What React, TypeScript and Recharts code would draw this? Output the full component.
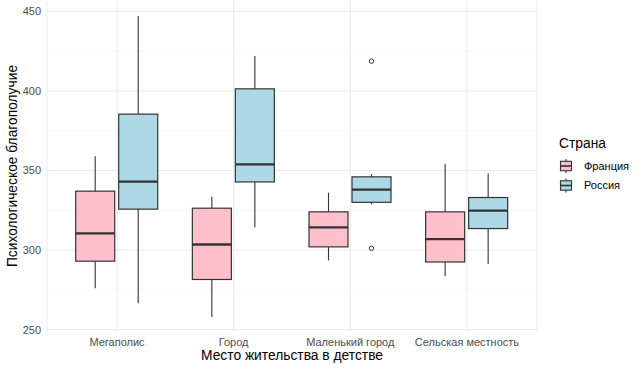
import React from 'react';
import { ComposedChart, Bar, XAxis, YAxis, CartesianGrid } from 'recharts';

const categories = ['Мегаполис', 'Город', 'Маленький город', 'Сельская местность'];

const franceMin = [276, 258, 293.5, 283.5];
const franceQ1 = [293, 281.5, 302, 292.5];
const franceMedian = [310.5, 303.5, 314.2, 306.8];
const franceQ3 = [337, 326.3, 324, 324];
const franceMax = [359, 333.5, 336, 354];
const franceOutliers: number[][] = [[], [], [], []];

const russiaMin = [266.5, 314.3, 328.8, 291.3];
const russiaQ1 = [325.7, 342.8, 330, 313.5];
const russiaMedian = [343, 353.8, 338, 324.8];
const russiaQ3 = [385.4, 401.3, 346, 333];
const russiaMax = [447, 421.9, 347.7, 348.1];
const russiaOutliers: number[][] = [[], [], [418.7, 301.1], []];

const yTicks = [250, 300, 350, 400, 450];
const yMinorTicks = [275, 325, 375, 425];
const yDomain = [248.5, 456.5];

const seriesNames = ['Франция', 'Россия'];
const legendTitle = 'Страна';
const xTitle = 'Место жительства в детстве';
const yTitle = 'Психологическое благополучие';

const FILL_F = '#FFC0CB';
const FILL_R = '#ADD8E6';
const STROKE = '#333333';
const FONT = '"Liberation Sans", Arial, sans-serif';

const data = categories.map((c, i) => ({
  category: c,
  fMin: franceMin[i], fQ1: franceQ1[i], fMed: franceMedian[i], fQ3: franceQ3[i], fMax: franceMax[i], fOut: franceOutliers[i],
  rMin: russiaMin[i], rQ1: russiaQ1[i], rMed: russiaMedian[i], rQ3: russiaQ3[i], rMax: russiaMax[i], rOut: russiaOutliers[i],
}));

function makeBoxShape(p: 'f' | 'r', fill: string) {
  return (props: any) => {
    const { x, y, width, height, payload } = props;
    const lo = payload[p + 'Min'];
    const hi = payload[p + 'Max'];
    const top = Math.min(y, y + height);
    const h = Math.abs(height);
    const k = h / (hi - lo);
    const py = (v: number) => top + (hi - v) * k;
    const cx = x + width / 2;
    const q1 = py(payload[p + 'Q1']);
    const q3 = py(payload[p + 'Q3']);
    const med = py(payload[p + 'Med']);
    const outs: number[] = payload[p + 'Out'] || [];
    return (
      <g>
        <line x1={cx} x2={cx} y1={py(hi)} y2={q3} stroke={STROKE} strokeWidth={1.1} />
        <line x1={cx} x2={cx} y1={q1} y2={py(lo)} stroke={STROKE} strokeWidth={1.1} />
        <rect x={x} y={q3} width={width} height={q1 - q3} fill={fill} stroke={STROKE} strokeWidth={1.2} />
        <line x1={x} x2={x + width} y1={med} y2={med} stroke={STROKE} strokeWidth={2.3} />
        {outs.map((o, j) => (
          <circle key={j} cx={cx} cy={py(o)} r={2.2} fill="none" stroke={STROKE} strokeWidth={1} />
        ))}
      </g>
    );
  };
}

const LegendKey = ({ y, fill }: { y: number; fill: string }) => (
  <g>
    <line x1={566} x2={566} y1={y - 7} y2={y + 7} stroke={STROKE} strokeWidth={1.1} />
    <rect x={560.5} y={y - 4.7} width={11} height={9.4} fill={fill} stroke={STROKE} strokeWidth={1.1} />
    <line x1={560.5} x2={571.5} y1={y} y2={y} stroke={STROKE} strokeWidth={1.6} />
  </g>
);

const tickStyle = { fontSize: 11, fill: '#4D4D4D', stroke: 'none', fontFamily: FONT };

export default function App() {
  return (
    <div style={{ position: 'absolute', left: 0, top: 0, width: 643, height: 370, background: '#fff' }}>
      <ComposedChart
        width={643}
        height={370}
        data={data}
        margin={{ top: 1, right: 106, bottom: 0, left: 0 }}
        barGap={4}
        barSize={39}
      >
        <CartesianGrid horizontalValues={yMinorTicks} vertical={false} stroke="#F3F3F3" strokeWidth={0.7} />
        <CartesianGrid horizontalValues={yTicks} stroke="#EBEBEB" strokeWidth={1} />
        <XAxis
          dataKey="category"
          type="category"
          padding={{ left: 11.7, right: 11.7 }}
          tickLine={false}
          axisLine={false}
          stroke="none"
          tickSize={0}
          tickMargin={6}
          height={38}
          interval={0}
          tick={tickStyle}
        />
        <YAxis
          type="number"
          domain={yDomain}
          ticks={yTicks}
          allowDataOverflow
          tickLine={false}
          axisLine={false}
          stroke="none"
          tickSize={0}
          tickMargin={6}
          width={47}
          tick={tickStyle}
        />
        <Bar
          dataKey={(d: any) => [d.fMin, d.fMax]}
          name={seriesNames[0]}
          fill={FILL_F}
          shape={makeBoxShape('f', FILL_F)}
          isAnimationActive={false}
        />
        <Bar
          dataKey={(d: any) => [d.rMin, d.rMax]}
          name={seriesNames[1]}
          fill={FILL_R}
          shape={makeBoxShape('r', FILL_R)}
          isAnimationActive={false}
        />
      </ComposedChart>
      <svg width={643} height={370} style={{ position: 'absolute', left: 0, top: 0, pointerEvents: 'none' }}>
        <text x={292} y={360} textAnchor="middle" fontSize={13.8} fill="#000" fontFamily={FONT}>{xTitle}</text>
        <text transform="translate(17,166) rotate(-90)" textAnchor="middle" fontSize={13.8} fill="#000" fontFamily={FONT}>{yTitle}</text>
        <text x={559} y={148} fontSize={13.8} fill="#000" fontFamily={FONT}>{legendTitle}</text>
        <LegendKey y={166} fill={FILL_F} />
        <text x={584} y={169.5} fontSize={11} fill="#000" fontFamily={FONT}>{seriesNames[0]}</text>
        <LegendKey y={185.5} fill={FILL_R} />
        <text x={584} y={189} fontSize={11} fill="#000" fontFamily={FONT}>{seriesNames[1]}</text>
      </svg>
    </div>
  );
}
